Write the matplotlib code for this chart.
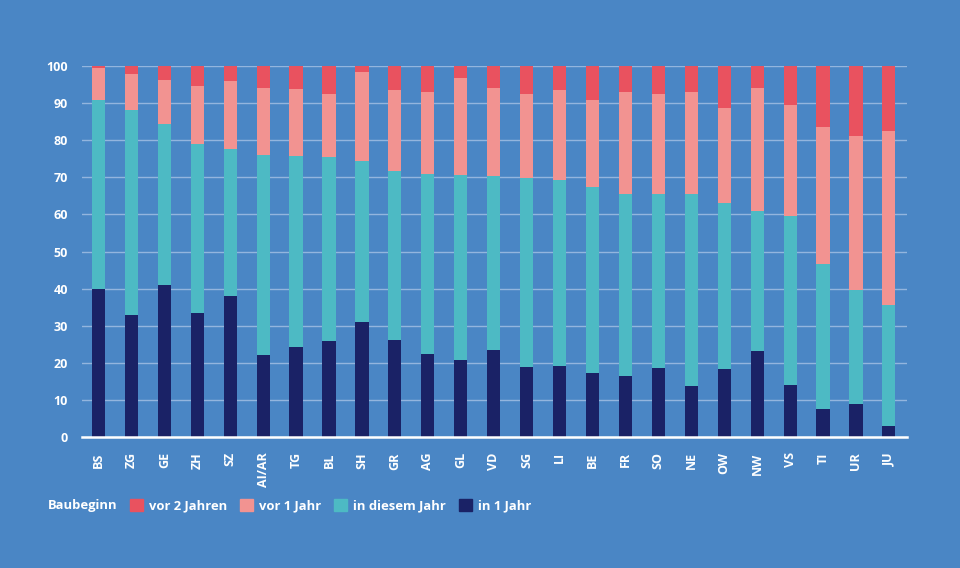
import numpy as np
import matplotlib.pyplot as plt
from matplotlib.patches import Patch

# Kantone (Reihenfolge wie im Original)
kantone = ["BS", "ZG", "GE", "ZH", "SZ", "AI/AR", "TG", "BL", "SH", "GR", "AG", "GL", "VD",
           "SG", "LI", "BE", "FR", "SO", "NE", "OW", "NW", "VS", "TI", "UR", "JU"]

# Anteile in %
in_1_jahr = [40.0, 33.0, 40.9, 33.5, 37.9, 22.0, 24.3, 25.9, 31.0, 26.1, 22.3, 20.8, 23.5,
             19.0, 19.2, 17.2, 16.5, 18.7, 13.8, 18.4, 23.3, 14.1, 7.5, 9.0, 3.1]
in_diesem_jahr = [50.8, 55.1, 43.4, 45.4, 39.7, 54.1, 51.4, 49.6, 43.4, 45.7, 48.5, 49.9, 46.9,
                  50.7, 50.0, 50.2, 49.1, 46.9, 51.7, 44.7, 37.5, 45.4, 39.1, 30.6, 32.5]
vor_1_jahr = [8.7, 9.8, 11.9, 15.8, 18.4, 17.9, 18.0, 16.9, 24.1, 21.6, 22.1, 26.1, 23.8,
              22.7, 24.2, 23.5, 27.4, 26.8, 27.5, 25.7, 33.2, 30.1, 36.9, 41.6, 46.9]
vor_2_jahren = [0.5, 2.1, 3.8, 5.3, 4.0, 6.0, 6.3, 7.6, 1.5, 6.6, 7.1, 3.2, 5.8,
                7.6, 6.6, 9.1, 7.0, 7.6, 7.0, 11.2, 6.0, 10.4, 16.5, 18.8, 17.5]

bg = "#4a86c5"
c_red = "#e9525f"
c_pink = "#f29391"
c_teal = "#4dbac4"
c_dark = "#1a2266"

plt.rcParams['font.family'] = ['Open Sans', 'DejaVu Sans']

fig = plt.figure(figsize=(9.6, 5.68), dpi=100, facecolor=bg)
ax = fig.add_axes([0.0854, 0.2306, 0.8594, 0.6532], facecolor=bg)

x = np.arange(len(kantone))
w = 0.4
b1 = np.array(in_1_jahr)
b2 = b1 + np.array(in_diesem_jahr)
b3 = b2 + np.array(vor_1_jahr)

ax.bar(x, in_1_jahr, width=w, color=c_dark, zorder=3)
ax.bar(x, in_diesem_jahr, width=w, bottom=b1, color=c_teal, zorder=3)
ax.bar(x, vor_1_jahr, width=w, bottom=b2, color=c_pink, zorder=3)
ax.bar(x, vor_2_jahren, width=w, bottom=b3, color=c_red, zorder=3)

ax.set_xlim(-0.5, 24.55)
ax.set_ylim(0, 100)
ax.set_yticks(np.arange(0, 101, 10))
ax.yaxis.grid(True, color="#93b5de", linewidth=1, zorder=0)
ax.set_axisbelow(True)
for s in ["top", "right", "left"]:
    ax.spines[s].set_visible(False)
ax.spines["bottom"].set_color("white")
ax.spines["bottom"].set_linewidth(1.8)
ax.spines["bottom"].set_zorder(4)

ax.set_xticks(x)
ax.set_xticklabels(kantone, rotation=90)
ax.tick_params(axis="both", length=0, colors="white", labelsize=9)
ax.tick_params(axis="y", pad=10)
ax.tick_params(axis="x", pad=11)
for lab in ax.get_xticklabels() + ax.get_yticklabels():
    lab.set_fontweight("bold")

# Legende
fig.text(48 / 960, 1 - 506 / 568, "Baubeginn", color="white", fontsize=9.4,
         fontweight="bold", va="center", ha="left")
handles = [Patch(color=c_red, label="vor 2 Jahren"),
           Patch(color=c_pink, label="vor 1 Jahr"),
           Patch(color=c_teal, label="in diesem Jahr"),
           Patch(color=c_dark, label="in 1 Jahr")]
leg = fig.legend(handles=handles, loc="center left", bbox_to_anchor=(127 / 960, 1 - 506 / 568),
                 ncol=4, frameon=False, handlelength=1.0, handleheight=1.0,
                 handletextpad=0.45, columnspacing=1.0, borderaxespad=0, borderpad=0.2,
                 prop={"size": 9.4, "weight": "bold"})
for t in leg.get_texts():
    t.set_color("white")

fig.savefig("out.png", dpi=100, facecolor=bg)
